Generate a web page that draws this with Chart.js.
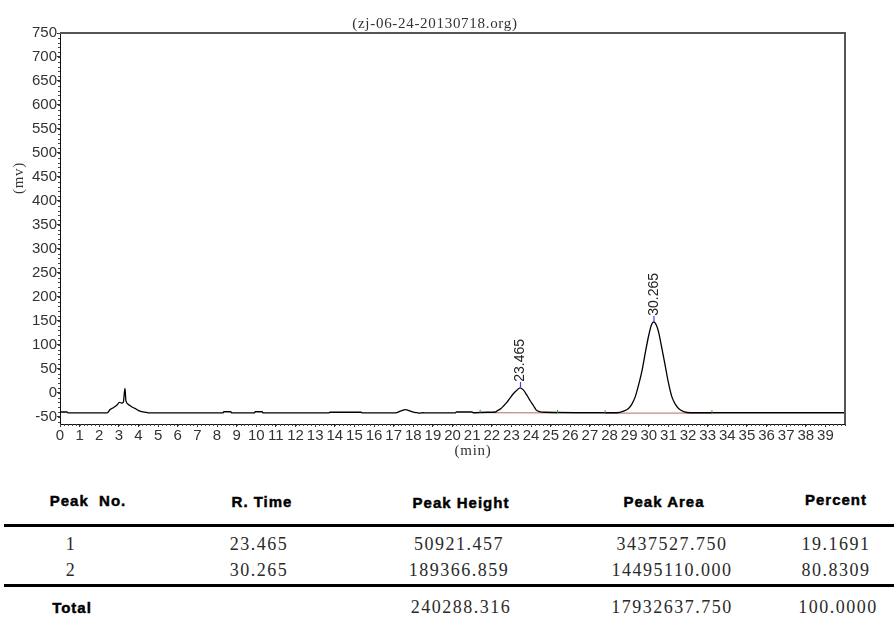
<!DOCTYPE html>
<html>
<head>
<meta charset="utf-8">
<script src="https://cdn.jsdelivr.net/npm/chart.js@4/dist/chart.umd.min.js"></script>
<style>
  html, body { margin: 0; padding: 0; background: #fff; }
  #wrap { position: relative; width: 894px; height: 617px; overflow: hidden; }
  #chartBox { position: absolute; left: 0; top: 0; width: 894px; height: 470px; }
  .t { position: absolute; transform: translate(-50%, -50%); white-space: pre; }
  .hd { font: bold 15px "Liberation Sans", Arial, sans-serif; letter-spacing: 1px; color: #000; -webkit-text-stroke: 0.45px #000; }
  .cell { font: 18px "Liberation Serif", "Times New Roman", serif; letter-spacing: 1.5px; color: #2a2a2a; }
  .rule { position: absolute; left: 4px; width: 890px; height: 3px; background: #000; }
</style>
</head>
<body>
<div id="wrap">
  <div id="chartBox"><canvas id="c"></canvas></div>
  <div id="table"></div>
</div>
<script>
// ---- data ----
const chartTitle = "(zj-06-24-20130718.org)";
const yAxisTitle = "(mv)";
const xAxisTitle = "(min)";

const traceTimes = [0, 0.35, 0.4, 2.41, 2.55, 2.72, 2.89, 3.03, 3.15, 3.23, 3.31, 3.36, 3.48, 3.65, 3.82, 3.99, 4.16, 4.42, 4.5,
  8.3, 8.35, 8.7, 8.75, 9.9, 9.95, 10.3, 10.35, 13.7, 13.75, 15.35, 15.4,
  17.1, 17.35, 17.6, 17.85, 18.05, 18.2, 18.3, 18.5, 18.6, 20.15, 20.2, 21.0, 21.05, 21.75,
  22.2, 22.26, 22.43, 22.6, 22.77, 22.94, 23.11, 23.28, 23.45, 23.62, 23.79, 23.96, 24.13, 24.27, 24.39, 24.73,
  27.0, 28.38, 28.72, 28.97, 29.14, 29.31, 29.48, 29.66, 29.83, 30.0, 30.13, 30.25, 30.39, 30.5, 30.67, 30.85,
  31.01, 31.18, 31.35, 31.52, 31.78, 32.12, 32.5, 40];
const traceValues = [-40, -40, -42, -42, -35, -31, -26, -20, -21.5, -19, 9, -17, -24, -29, -32.5, -36.5, -39, -41, -42,
  -42, -39.5, -39.5, -42, -42, -39.5, -39.5, -42, -42, -40.5, -40.5, -42,
  -42, -38, -35, -38, -41, -41.5, -42.5, -41.5, -42, -42, -40, -40, -41.5, -40.5,
  -40, -38, -34, -27.5, -20, -10.5, -1.5, 5.5, 10.5, 5.5, -5, -16.5, -27, -36, -38.5, -40.5,
  -41.5, -41.5, -38, -32.5, -23.5, -8.5, 16, 47, 85, 120, 141, 148, 141, 127, 92.5, 54,
  19.5, -8.5, -23.5, -32.5, -39, -41.5, -41.5, -41.5];

const peakTimes = [23.465, 30.265];
const peakTops = [10.5, 148];
const peakLabels = ["23.465", "30.265"];

const baseStart = [21.41, 27.78];
const baseEnd = [25.35, 33.22];
const baseStartVal = [-41.3, -42.2];
const baseEndVal = [-41.8, -42.2];

const xTickValues = [0,1,2,3,4,5,6,7,8,9,10,11,12,13,14,15,16,17,18,19,20,21,22,23,24,25,26,27,28,29,30,31,32,33,34,35,36,37,38,39];
const yTickValues = [-50,0,50,100,150,200,250,300,350,400,450,500,550,600,650,700,750];

// table
const tableHeaders = ["Peak  No.", "R. Time", "Peak Height", "Peak Area", "Percent"];
const peakNos = ["1", "2"];
const rTimes = ["23.465", "30.265"];
const peakHeights = ["50921.457", "189366.859"];
const peakAreas = ["3437527.750", "14495110.000"];
const percents = ["19.1691", "80.8309"];
const totalLabel = "Total";
const totals = ["", "240288.316", "17932637.750", "100.0000"];

// ---- build datasets ----
const tracePts = traceTimes.map((t, i) => ({x: t, y: traceValues[i]}));
const baseDatasets = baseStart.map((s, i) => ({
  data: [{x: s, y: baseStartVal[i]}, {x: baseEnd[i], y: baseEndVal[i]}],
  borderColor: '#c48888', borderWidth: 1.2, pointRadius: 0, order: 3
}));
const markerPts = [];
baseStart.forEach((s, i) => { markerPts.push({x: s, y: baseStartVal[i] + 3}); markerPts.push({x: baseEnd[i], y: baseEndVal[i] + 3}); });
const peakTickPts = peakTimes.map((t, i) => ({x: t, y: peakTops[i] + 6}));

const textPlugin = {
  id: 'texts',
  afterDraw(chart) {
    const ctx = chart.ctx, ca = chart.chartArea;
    const xs = chart.scales.x, ys = chart.scales.y;
    ctx.save();
    // frame top & right
    ctx.strokeStyle = '#555'; ctx.lineWidth = 2;
    ctx.beginPath(); ctx.moveTo(ca.left, ca.top); ctx.lineTo(ca.right, ca.top); ctx.lineTo(ca.right, ca.bottom); ctx.stroke();
    // minor ticks
    ctx.strokeStyle = '#444'; ctx.lineWidth = 1;
    ctx.beginPath();
    for (let k = 0; k <= 200; k++) {
      const px = Math.round(xs.getPixelForValue(k * 0.2)) + 0.5;
      ctx.moveTo(px, ca.bottom); ctx.lineTo(px, ca.bottom + 2);
    }
    for (let v = -60; v <= 750; v += 10) {
      const py = Math.round(ys.getPixelForValue(v)) + 0.5;
      ctx.moveTo(ca.left - 2, py); ctx.lineTo(ca.left, py);
    }
    ctx.stroke();
    // titles
    ctx.fillStyle = '#333';
    ctx.font = '15px "Liberation Serif", serif';
    ctx.letterSpacing = '0.7px';
    ctx.textAlign = 'center'; ctx.textBaseline = 'middle';
    ctx.fillText(chartTitle, 435, 24);
    ctx.fillText(xAxisTitle, 473, 451);
    ctx.save();
    ctx.translate(19, 178); ctx.rotate(-Math.PI / 2);
    ctx.fillText(yAxisTitle, 0, 0);
    ctx.restore();
    // peak labels
    ctx.letterSpacing = '0px';
    ctx.font = '14px "Liberation Sans", Arial, sans-serif';
    ctx.fillStyle = '#222';
    peakTimes.forEach((t, i) => {
      const px = xs.getPixelForValue(t), py = ys.getPixelForValue(peakTops[i]);
      ctx.save();
      ctx.translate(px, py - 6); ctx.rotate(-Math.PI / 2);
      ctx.textAlign = 'left'; ctx.textBaseline = 'middle';
      ctx.fillText(peakLabels[i], 0, 0);
      ctx.restore();
    });
    ctx.restore();
  }
};

new Chart(document.getElementById('c'), {
  type: 'line',
  data: {
    datasets: [
      { data: tracePts, borderColor: '#000', borderWidth: 1.3, pointRadius: 0, cubicInterpolationMode: 'monotone', order: 2 },
      ...baseDatasets,
      { type: 'scatter', data: markerPts, pointStyle: 'line', rotation: 90, radius: 1.5, borderColor: '#2a9a2a', borderWidth: 1, order: 1 },
      { type: 'scatter', data: peakTickPts, pointStyle: 'line', rotation: 90, radius: 3, borderColor: '#3344ee', borderWidth: 1.2, order: 1 }
    ]
  },
  options: {
    responsive: true, maintainAspectRatio: false, animation: false,
    devicePixelRatio: 1,
    layout: { padding: { top: 33, right: 49, left: 0, bottom: 0 } },
    plugins: { legend: { display: false }, tooltip: { enabled: false }, title: { display: false } },
    scales: {
      x: {
        type: 'linear', min: 0, max: 40,
        afterBuildTicks: s => { s.ticks = xTickValues.map(v => ({value: v})); },
        afterFit: s => { s.height = 46; },
        grid: { display: true, drawOnChartArea: false, drawTicks: true, tickLength: 3, color: '#333' },
        border: { display: true, color: '#111', width: 1 },
        ticks: { autoSkip: false, maxRotation: 0, padding: 1, color: '#333',
                 font: { family: '"Liberation Sans", Arial, sans-serif', size: 15, lineHeight: 1 } }
      },
      y: {
        type: 'linear', min: -65, max: 750,
        afterBuildTicks: s => { s.ticks = yTickValues.map(v => ({value: v})); },
        afterFit: s => { s.width = 60; },
        grid: { display: true, drawOnChartArea: false, drawTicks: true, tickLength: 3, color: '#333' },
        border: { display: true, color: '#111', width: 1 },
        ticks: { autoSkip: false, padding: 0, color: '#333',
                 font: { family: '"Liberation Sans", Arial, sans-serif', size: 15, lineHeight: 1 } }
      }
    }
  },
  plugins: [textPlugin]
});

// ---- table ----
const tbl = document.getElementById('table');
function put(text, x, y, cls) {
  const d = document.createElement('div');
  d.className = 't ' + cls; d.textContent = text;
  d.style.left = x + 'px'; d.style.top = y + 'px';
  tbl.appendChild(d);
}
const headX = [88, 262, 461, 664, 836];
const headY = [500, 501, 502, 501, 499];
tableHeaders.forEach((h, i) => put(h, headX[i], headY[i], 'hd'));
const colX = [71, 259, 459, 672, 836];
const rowY = [544, 570];
peakNos.forEach((n, r) => {
  put(n, colX[0], rowY[r], 'cell');
  put(rTimes[r], colX[1], rowY[r], 'cell');
  put(peakHeights[r], colX[2], rowY[r], 'cell');
  put(peakAreas[r], colX[3], rowY[r], 'cell');
  put(percents[r], colX[4], rowY[r], 'cell');
});
put(totalLabel, 72, 607, 'hd');
put(totals[1], 461, 607, 'cell');
put(totals[2], 672, 607, 'cell');
put(totals[3], 838, 607, 'cell');
[523.5, 584].forEach(y => { const d = document.createElement('div'); d.className = 'rule'; d.style.top = y + 'px'; tbl.appendChild(d); });
</script>
</body>
</html>
